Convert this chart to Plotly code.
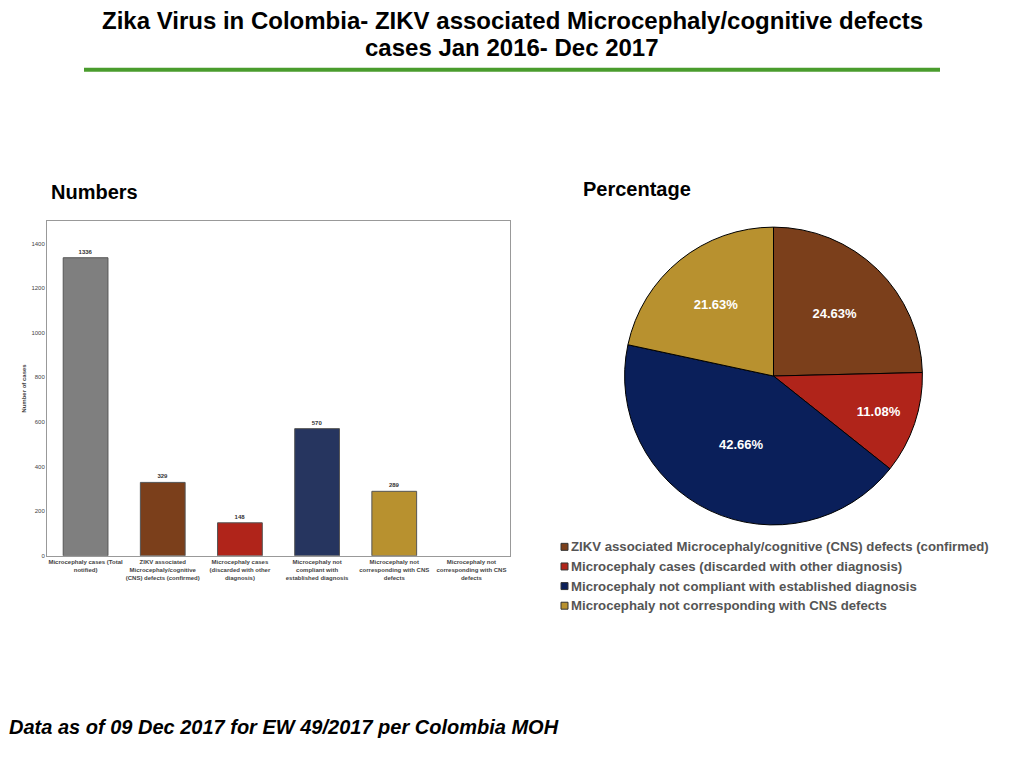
import plotly.graph_objects as go

# Bar chart data
categories = [
    "Microcephaly cases (Total<br>notified)",
    "ZIKV associated<br>Microcephaly/cognitive<br>(CNS) defects (confirmed)",
    "Microcephaly cases<br>(discarded with other<br>diagnosis)",
    "Microcephaly not<br>compliant with<br>established diagnosis",
    "Microcephaly not<br>corresponding with CNS<br>defects",
    "Microcephaly not<br>corresponding with CNS<br>defects",
]
case_counts = [1336, 329, 148, 570, 289, None]
bar_colors = ["#7f7f7f", "#7b3f1b", "#b0241a", "#26355f", "#b8912f", "#ffffff"]
y_ticks = [0, 200, 400, 600, 800, 1000, 1200, 1400]

# Pie chart data
pie_labels = [
    "ZIKV associated Microcephaly/cognitive (CNS) defects (confirmed)",
    "Microcephaly cases (discarded with other diagnosis)",
    "Microcephaly not compliant with established diagnosis",
    "Microcephaly not corresponding with CNS defects",
]
pie_values = [329, 148, 570, 289]
pie_colors = ["#7b3f1b", "#b0241a", "#0a1f5a", "#b8912f"]

title_lines = [
    "Zika Virus in Colombia- ZIKV associated Microcephaly/cognitive defects",
    "cases Jan 2016- Dec 2017",
]

# page body has an 8px margin, so the figure is a bit smaller than the window
OFF = 8
W, H = 1024 - 2 * OFF, 768 - 2 * OFF


def px_x(p):
    return (p - OFF) / W


def px_y(p):
    return 1 - (p - OFF) / H


fig = go.Figure()

fig.add_trace(go.Bar(
    x=list(range(len(categories))),
    y=case_counts,
    marker=dict(color=bar_colors, line=dict(color="#555555", width=1)),
    width=0.58,
    text=case_counts,
    textposition="outside",
    textfont=dict(size=6, color="#333333", family="Liberation Sans", weight="bold"),
    cliponaxis=False,
    showlegend=False,
))

fig.add_trace(go.Pie(
    labels=pie_labels,
    values=pie_values,
    marker=dict(colors=pie_colors, line=dict(color="#000000", width=1)),
    sort=False,
    direction="clockwise",
    rotation=0,
    texttemplate="%{percent:.2%}",
    textposition="inside",
    insidetextorientation="horizontal",
    textfont=dict(size=13, color="white", family="Liberation Sans", weight="bold"),
    domain=dict(x=[px_x(624), px_x(923)], y=[px_y(527), px_y(228)]),
    hoverinfo="label+value+percent",
    showlegend=False,
))

# hand-made legend under the pie (tight marker/text spacing like the original)
legend_shapes = []
legend_notes = []
for i, (lab, col) in enumerate(zip(pie_labels, pie_colors)):
    yc = 549 + i * 19.7
    legend_shapes.append(dict(
        type="rect", xref="paper", yref="paper",
        x0=px_x(561), x1=px_x(568), y0=px_y(yc + 3.5), y1=px_y(yc - 3.5),
        fillcolor=col, line=dict(color="#333333", width=1),
    ))
    legend_notes.append(dict(
        text="<b>" + lab + "</b>", x=px_x(569), y=px_y(yc), xref="paper", yref="paper",
        xanchor="left", yanchor="middle", showarrow=False,
        font=dict(size=13.2, color="#555555", family="Liberation Sans"),
    ))

title_notes = [
    dict(text="<b>" + t + "</b>", x=px_x(512), y=px_y(yc), xref="paper", yref="paper",
         xanchor="center", yanchor="middle", showarrow=False,
         font=dict(size=24, color="black", family="Liberation Sans"))
    for t, yc in zip(title_lines, [21, 48])
]

fig.update_layout(
    width=W, height=H,
    margin=dict(l=0, r=0, t=0, b=0),
    paper_bgcolor="white",
    plot_bgcolor="white",
    font=dict(family="Liberation Sans", color="#333333"),
    showlegend=False,
    xaxis=dict(
        domain=[px_x(47), px_x(510)],
        tickmode="array",
        tickvals=list(range(len(categories))),
        ticktext=categories,
        range=[-0.5, len(categories) - 0.5],
        tickfont=dict(size=6, color="#444444", weight="bold"),
        showline=True, linecolor="#999999", linewidth=1, mirror=True,
        showgrid=False, ticks="",
    ),
    yaxis=dict(
        domain=[px_y(558), px_y(222)],
        range=[0, 1500],
        tickvals=y_ticks,
        tickfont=dict(size=6, color="#444444"),
        title=dict(text="Number of cases", font=dict(size=6, color="#444444", weight="bold"), standoff=4),
        showline=True, linecolor="#999999", linewidth=1, mirror=True,
        showgrid=False, zeroline=False, ticks="",
    ),
    shapes=[dict(
        type="line", xref="paper", yref="paper",
        x0=px_x(84), x1=px_x(940), y0=px_y(70), y1=px_y(70),
        line=dict(color="#4a9c2d", width=4),
    )] + legend_shapes,
    annotations=title_notes + [
        dict(text="<b>Numbers</b>", x=px_x(49), y=px_y(193), xref="paper", yref="paper",
             xanchor="left", yanchor="middle", showarrow=False,
             font=dict(size=20, color="black", family="Liberation Sans")),
        dict(text="<b>Percentage</b>", x=px_x(581), y=px_y(190), xref="paper", yref="paper",
             xanchor="left", yanchor="middle", showarrow=False,
             font=dict(size=20, color="black", family="Liberation Sans")),
        dict(text="<b><i>Data as of 09 Dec 2017 for EW 49/2017 per Colombia MOH</i></b>",
             x=px_x(7), y=px_y(730), xref="paper", yref="paper",
             xanchor="left", yanchor="middle", showarrow=False,
             font=dict(size=20, color="black", family="Liberation Sans")),
    ] + legend_notes,
)

fig.write_html("out.html")
